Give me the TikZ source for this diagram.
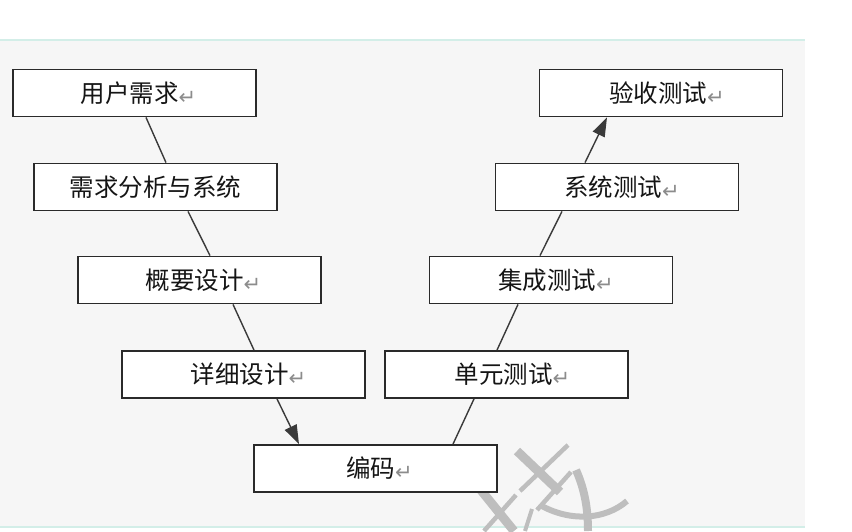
\documentclass[tikz,border=0pt]{standalone}
\usepackage{fontspec}
\newfontfamily\cjk{Noto Sans CJK SC}
\newfontfamily\symfont{DejaVu Sans}
\usetikzlibrary{arrows.meta,calc}
\definecolor{panel}{HTML}{F6F6F6}
\definecolor{edgeteal}{HTML}{D3EEE8}
\definecolor{boxline}{HTML}{2A2A2A}
\definecolor{conline}{HTML}{3A3A3A}
\definecolor{textc}{HTML}{151515}
\definecolor{retgray}{HTML}{8C8C8C}
\definecolor{wmark}{HTML}{BEBEBE}
\newcommand{\retmark}{{\symfont\fontsize{21pt}{21pt}\selectfont\color{retgray}\raisebox{-2pt}{↵}}}
\begin{document}
\begin{tikzpicture}[x=1pt,y=-1pt,
  stepbox/.style={draw=boxline, line width=1.8pt, fill=white,
    minimum width=243pt, minimum height=47pt, inner sep=0pt,
    font=\cjk\fontsize{24.5pt}{24.5pt}\selectfont, text=textc},
  conn/.style={draw=conline, line width=1.4pt},
  connarrow/.style={conn, -{Triangle[length=19pt,width=13pt]}},
  wm/.style={draw=wmark, line cap=butt}]
\useasboundingbox (0,0) rectangle (852,531);
\fill[panel] (0,40) rectangle (805,527);
\draw[edgeteal, line width=2pt] (0,40) -- (805,40);
\draw[edgeteal, line width=1.5pt] (0,527) -- (805,527);

% watermark strokes
\draw[wm, line width=9pt] (517,451) -- (560,492);
\draw[wm, line width=4.5pt] (568,445) -- (520,491);
\draw[wm, line width=9pt] (480,489) -- (514,531);
\draw[wm, line width=4.5pt] (516,495) -- (484,531);
\draw[wm, line width=4.5pt] (571,472) -- (537,510);
\draw[wm, line width=4pt] (532,509) -- (525,531);
\draw[wm, line width=8pt] (576,470) .. controls (585,490) and (588,510) .. (588,531);
\draw[wm, line width=6pt] (540,505) .. controls (570,522) and (605,520) .. (627,501);

% boxes
\node[stepbox] (u1) at (134.5,93)   {\hspace*{8pt}用户需求\retmark};
\node[stepbox] (u2) at (155.5,187)  {需求分析与系统};
\node[stepbox] (u3) at (199.5,280)  {\hspace*{8pt}概要设计\retmark};
\node[stepbox] (u4) at (243.5,374.5){\hspace*{10pt}详细设计\retmark};
\node[stepbox] (c)  at (375.5,468.5){\hspace*{8pt}编码\retmark};
\node[stepbox] (v4) at (506.5,374.5){\hspace*{12pt}单元测试\retmark};
\node[stepbox] (v3) at (551,280)    {\hspace*{10pt}集成测试\retmark};
\node[stepbox] (v2) at (617,187)    {\hspace*{10pt}系统测试\retmark};
\node[stepbox] (v1) at (661,93)     {\hspace*{12pt}验收测试\retmark};

% connectors
\draw[conn] ([xshift=11.5pt]u1.south) -- ([xshift=10.5pt]u2.north);
\draw[conn] ([xshift=32.5pt]u2.south) -- ([xshift=10.5pt]u3.north);
\draw[conn] ([xshift=33.5pt]u3.south) -- ([xshift=10.5pt]u4.north);
\draw[connarrow] ([xshift=33.5pt]u4.south) -- ([xshift=-76.5pt]c.north);
\draw[conn] ([xshift=77.5pt]c.north) -- ([xshift=-32.5pt]v4.south);
\draw[conn] ([xshift=-9.5pt]v4.north) -- ([xshift=-33pt]v3.south);
\draw[conn] ([xshift=-11pt]v3.north) -- ([xshift=-55pt]v2.south);
\draw[connarrow] ([xshift=-32pt]v2.north) -- ([xshift=-54pt]v1.south);
\end{tikzpicture}
\end{document}
